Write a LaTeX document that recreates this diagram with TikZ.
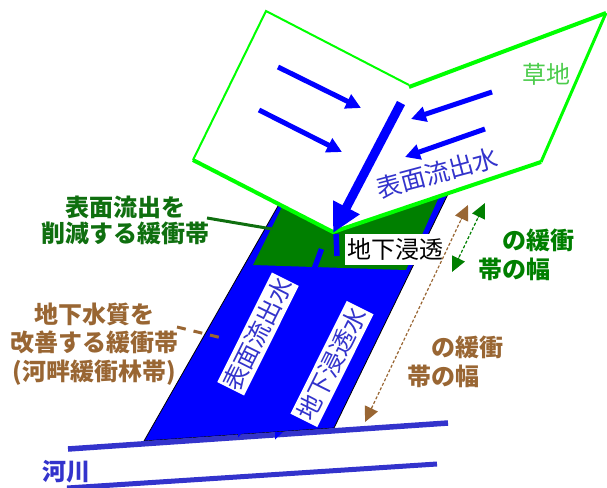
\documentclass[tikz,border=0pt]{standalone}
\usepackage{fontspec}
\setmainfont{Noto Sans CJK JP}
\usetikzlibrary{arrows.meta,calc}
\definecolor{grass}{HTML}{00FF00}
\definecolor{grasstext}{HTML}{4CCC4C}
\definecolor{zone}{HTML}{007F00}
\definecolor{labgreen}{HTML}{0F6F0F}
\definecolor{soil}{HTML}{996633}
\definecolor{river}{HTML}{3333CC}
\definecolor{water}{HTML}{0000FF}
\newcommand\fsz[2]{\fontsize{#1}{#2}\selectfont}
\tikzset{
  flow/.style={water, line width=5pt, -{Triangle[length=15pt,width=15pt]}},
  mainflow/.style={water, line width=9pt, -{Triangle[length=29pt,width=28pt]}},
  edgethin/.style={grass, line width=2pt},
  edgethick/.style={grass, line width=4pt},
  striplabel/.style={fill=white, text=river, font=\fsz{24.5}{24.5}, inner sep=0pt,
    minimum height=30pt, rotate=63.5},
  sidelabel/.style={font=\bfseries\fsz{24}{26}, align=center, inner sep=0pt},
  widthlabel/.style={font=\bfseries\fsz{24}{29}, align=left, inner sep=0pt, anchor=west},
  dimtip/.tip={Triangle[length=15pt,width=14pt,sep=0pt]},
  widthline/.style={line width=1.2pt, dash pattern=on 3pt off 2pt,
    shorten <=12pt, shorten >=12pt},
  widthhead/.style={line width=1.2pt, -dimtip},
  riverline/.style={river, line width=5.5pt}
}
\begin{document}
\begin{tikzpicture}[x=1pt,y=-1pt]
\useasboundingbox (0,0) rectangle (607,487);

% buffer strip running down to the river
\filldraw[fill=water, draw=black, line width=0.8pt]
  (282,199) -- (451,188) -- (334,428) -- (144,441) -- cycle;
% surface-runoff reducing zone at the top of the strip
\fill[zone] (287,197) -- (443,188) -- (406,270) -- (253,265) -- cycle;
\draw[water, line width=5.5pt] (336,234) -- (337,256);
\draw[water, line width=5.5pt] (321.5,249) -- (314.5,268);

% grassland, folded into two slopes
\fill[white] (266,11) -- (409,85) -- (333,232) -- (193,160) -- cycle;
\fill[white] (409,86) -- (606,13) -- (541,162) -- (333,232) -- cycle;
\draw[edgethin] (409,85) -- (266,11) -- (193,160);
\draw[edgethick] (193,160) -- (333,232) -- (541,162);
\draw[grass, line width=3pt] (541,162) -- (606,13);
\draw[edgethick] (606,13) -- (409,87);

% runoff over the grass
\draw[flow] (278,67) -- (361,108);
\draw[flow] (259,110) -- (342,152);
\draw[flow] (492,92) -- (411,119);
\draw[flow] (485,129) -- (405,157);
\draw[mainflow] (401,103) -- (333,233);

\node[text=river, font=\fsz{25}{25}, rotate=15] (gsurf) at (437,173) {表面流出水};
\node[text=grasstext, font=\fsz{24}{24}] (grassname) at (546,74) {草地};

\node[fill=white, text=black, font=\fsz{24}{24}, inner sep=0pt,
  minimum width=101pt, minimum height=31pt] (seep) at (395.5,249.5) {地下浸透};

\node[striplabel, minimum width=122pt] (ssurf) at (258,334) {表面流出水};
\node[striplabel, minimum width=126pt] (sseep) at (332,364) {地下浸透水};

% river banks
\draw[riverline] (68,449) -- (448,423);
\draw[river, line width=5pt] (67,488) -- (437,464);
\fill[water] (238,432.5) -- (242.5,432.5) -- (238,437.5) -- cycle;
\fill[water] (275,432) -- (283,432) -- (275,439.5) -- cycle;
\node[text=river, font=\bfseries\fsz{24}{24}, inner sep=0pt] (river) at (66,472) {河川};

% side labels and their leaders
\node[sidelabel, text=labgreen] (zlab) at (125,220) {表面流出を\\削減する緩衝帯};
\node[sidelabel, text=soil, font=\bfseries\fsz{24}{28.5}] (blab) at (94,344)
  {地下水質を\\改善する緩衝帯\\(河畔緩衝林帯)};
\coordinate (zlabend) at (207,218);
\coordinate (zonept) at (272,229);
\coordinate (blabend) at (177,327);
\coordinate (strippt) at (222,338);
\draw[labgreen, line width=3pt] (zlabend) -- (zonept);
\draw[soil, line width=3pt, dash pattern=on 9pt off 8pt] (blabend) -- (strippt);

% widths of the two zones: dotted shaft, solid heads
\coordinate (gtop) at (485,203);
\coordinate (gbot) at (452,272);
\coordinate (btop) at (468,205);
\coordinate (bbot) at (365,422);
\draw[widthline, zone] (gtop) -- (gbot);
\draw[widthhead, zone] ($(gtop)!16pt!(gbot)$) -- (gtop);
\draw[widthhead, zone] ($(gbot)!16pt!(gtop)$) -- (gbot);
\draw[widthline, soil] (btop) -- (bbot);
\draw[widthhead, soil] ($(btop)!16pt!(bbot)$) -- (btop);
\draw[widthhead, soil] ($(bbot)!16pt!(btop)$) -- (bbot);
\node[widthlabel, text=zone] (gwidth) at (478,255) {\hspace*{1em}の緩衝\\帯の幅};
\node[widthlabel, text=soil] (bwidth) at (407,362) {\hspace*{1em}の緩衝\\帯の幅};
\end{tikzpicture}
\end{document}
